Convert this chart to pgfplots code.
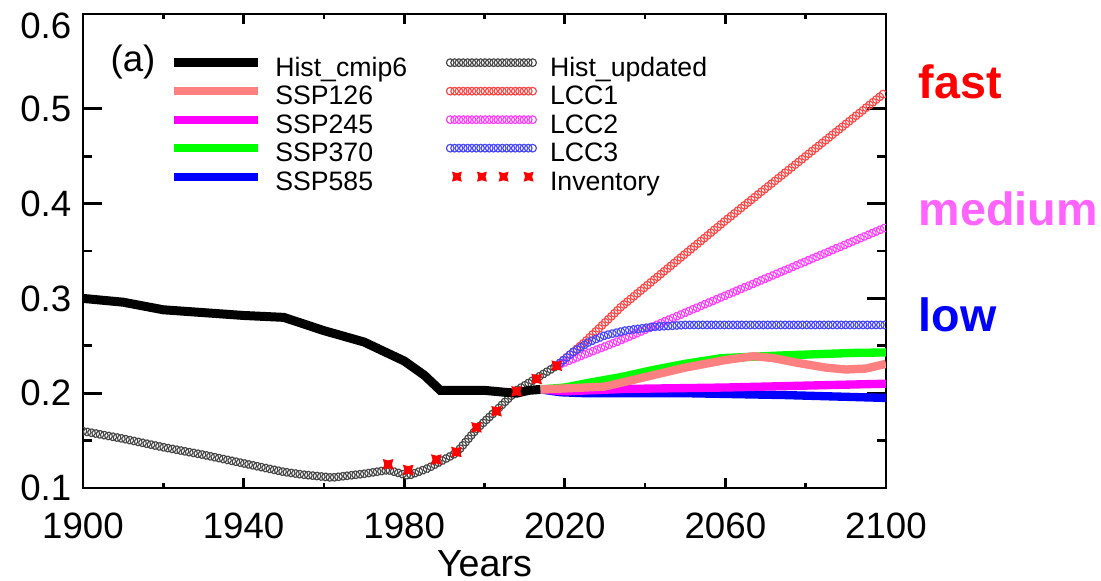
\documentclass[border=0pt]{standalone}
\usepackage{fontspec}
\setmainfont{Liberation Sans}
\usepackage{pgfplots}
\pgfplotsset{compat=1.18}
\usetikzlibrary{decorations.markings}

\definecolor{salmon}{RGB}{255,128,128}
\definecolor{sspmag}{RGB}{255,0,255}
\definecolor{sspgreen}{RGB}{0,255,0}
\definecolor{sspblue}{RGB}{0,0,255}
\definecolor{lccred}{RGB}{255,70,70}
\definecolor{lccmag}{RGB}{255,60,255}
\definecolor{lccblue}{RGB}{70,70,255}
\definecolor{histgray}{RGB}{70,70,70}
\definecolor{medpink}{RGB}{255,100,255}

% filled square with pinched sides, like the IDL inventory symbol
\pgfdeclareplotmark{pinch}{%
  \pgfpathmoveto{\pgfpoint{-\pgfplotmarksize}{-\pgfplotmarksize}}%
  \pgfpathquadraticcurveto{\pgfpoint{0pt}{-0.45\pgfplotmarksize}}{\pgfpoint{\pgfplotmarksize}{-\pgfplotmarksize}}%
  \pgfpathquadraticcurveto{\pgfpoint{0.45\pgfplotmarksize}{0pt}}{\pgfpoint{\pgfplotmarksize}{\pgfplotmarksize}}%
  \pgfpathquadraticcurveto{\pgfpoint{0pt}{0.45\pgfplotmarksize}}{\pgfpoint{-\pgfplotmarksize}{\pgfplotmarksize}}%
  \pgfpathquadraticcurveto{\pgfpoint{-0.45\pgfplotmarksize}{0pt}}{\pgfpoint{-\pgfplotmarksize}{-\pgfplotmarksize}}%
  \pgfpathclose\pgfusepathqfillstroke}

% rows of open circles along a path (IDL psym=-6 look); (0pt,0pt) so axis cs is not used
\pgfplotsset{
  circline/.style={draw opacity=0, postaction={decorate},
    decoration={markings, mark=between positions 0 and 1 step 1.3pt with
      {\draw[#1, draw opacity=1, line width=0.35pt] (0pt,0pt) circle (1.15pt);}}},
  thick line/.style={#1, line width=2.5pt},
}

% Hist_cmip6
\pgfplotstableread{
year val
1900 0.300
1910 0.296
1920 0.288
1930 0.285
1940 0.282
1950 0.280
1960 0.266
1970 0.254
1980 0.234
1985 0.219
1989 0.203
1995 0.203
2000 0.203
2005 0.201
2008 0.200
2011 0.203
2014 0.204
}\histcmip

% Hist_updated
\pgfplotstableread{
year val
1900 0.160
1910 0.152
1920 0.143
1930 0.135
1940 0.126
1950 0.117
1955 0.114
1962 0.111
1970 0.115
1976 0.119
1981 0.113
1986 0.121
1993 0.137
1998 0.162
2003 0.182
2008 0.203
2013 0.216
2018 0.229
}\histupd

\pgfplotstableread{
year val
1976 0.125
1981 0.119
1988 0.130
1993 0.138
1998 0.164
2003 0.181
2008 0.202
2013 0.215
2018 0.229
}\inventory

\pgfplotstableread{
year val
2018 0.229
2025 0.254
2034 0.291
2060 0.382
2080 0.450
2100 0.518
}\lccone

\pgfplotstableread{
year val
2018 0.229
2025 0.241
2034 0.256
2050 0.285
2075 0.330
2100 0.375
}\lcctwo

\pgfplotstableread{
year val
2018 0.229
2022 0.243
2026 0.254
2030 0.261
2035 0.266
2042 0.270
2050 0.272
2075 0.272
2100 0.272
}\lccthree

\pgfplotstableread{
year val
2014 0.204
2020 0.205
2030 0.207
2040 0.217
2050 0.227
2060 0.235
2067 0.239
2072 0.237
2078 0.232
2085 0.227
2090 0.225
2095 0.226
2100 0.231
}\sspone

\pgfplotstableread{
year val
2014 0.204
2020 0.202
2035 0.2045
2060 0.206
2080 0.208
2100 0.210
}\ssptwo

\pgfplotstableread{
year val
2014 0.204
2020 0.206
2026 0.211
2034 0.217
2042 0.2245
2050 0.231
2059 0.237
2075 0.240
2092 0.2425
2100 0.243
}\sspthree

\pgfplotstableread{
year val
2014 0.204
2019 0.201
2025 0.200
2050 0.200
2075 0.198
2100 0.195
}\sspfive

\begin{document}
\begin{tikzpicture}
\begin{axis}[
  scale only axis, width=240.9pt, height=142.2pt,
  xmin=1900, xmax=2100, ymin=0.1, ymax=0.6,
  xtick={1900,1940,...,2100}, ytick={0.1,0.2,...,0.51},
  extra y ticks={0.6},
  extra y tick style={yticklabel style={yshift=-3.6pt}},
  minor x tick num=1, minor y tick num=1,
  tick align=inside, axis line style={line width=0.8pt},
  every tick/.style={black, line width=0.8pt},
  xtick style={/pgfplots/major tick length=3pt, /pgfplots/minor tick length=1.5pt},
  ytick style={/pgfplots/major tick length=5.7pt, /pgfplots/minor tick length=2.7pt},
  /pgf/number format/assume math mode=true,
  x tick label style={/pgf/number format/1000 sep={}},
  y tick label style={/pgf/number format/fixed, /pgf/number format/precision=1},
  ticklabel style={font=\fontsize{11}{12}\selectfont},
  xticklabel style={anchor=north, inner sep=0pt, yshift=-7.2pt},
  yticklabel style={anchor=east, inner sep=0pt, xshift=-3.3pt},
  xlabel={Years},
  xlabel style={font=\fontsize{11.3}{12}\selectfont, at={(axis description cs:0.5,0)},
    anchor=north, inner sep=0pt, yshift=-18.6pt},
  legend image code/.code={\draw[#1] (0pt,4pt) -- (25pt,4pt);},
  legend columns=2,
  legend style={draw=none, fill=none, inner sep=0pt, outer sep=0pt,
    at={(0.1083,0.9114)}, anchor=north west, row sep=0pt,
    font=\fontsize{8}{9}\selectfont,
    cells={anchor=base west},
    nodes={inner sep=0pt, text height=6pt, text depth=2.55pt},
    /tikz/every odd column/.append style={column sep=3.9pt},
    /tikz/every even column/.append style={column sep=11.6pt}},
]
\coordinate (sw) at (rel axis cs:0,0);
\coordinate (ne) at (rel axis cs:1,1);

\addplot[circline=histgray, forget plot] table[x=year, y=val] {\histupd};
\addplot[circline=lccred, forget plot] table[x=year, y=val] {\lccone};
\addplot[circline=lccmag, forget plot] table[x=year, y=val] {\lcctwo};
\addplot[circline=lccblue, forget plot] table[x=year, y=val] {\lccthree};
\addplot[black, line width=2.7pt, forget plot] table[x=year, y=val] {\histcmip};
\addplot[thick line=sspblue, forget plot] table[x=year, y=val] {\sspfive};
\addplot[thick line=sspmag, forget plot] table[x=year, y=val] {\ssptwo};
\addplot[thick line=sspgreen, forget plot] table[x=year, y=val] {\sspthree};
\addplot[thick line=salmon, forget plot] table[x=year, y=val] {\sspone};
\addplot[only marks, mark=pinch, mark size=1.3pt, red, forget plot] table[x=year, y=val] {\inventory};

\addlegendimage{black, line width=2.7pt}
\addlegendentry{Hist\_cmip6}
\addlegendimage{circline=histgray}
\addlegendentry{Hist\_updated}
\addlegendimage{thick line=salmon}
\addlegendentry{SSP126}
\addlegendimage{circline=lccred}
\addlegendentry{LCC1}
\addlegendimage{thick line=sspmag}
\addlegendentry{SSP245}
\addlegendimage{circline=lccmag}
\addlegendentry{LCC2}
\addlegendimage{thick line=sspgreen}
\addlegendentry{SSP370}
\addlegendimage{circline=lccblue}
\addlegendentry{LCC3}
\addlegendimage{thick line=sspblue}
\addlegendentry{SSP585}
\addlegendimage{legend image code/.code={\draw[only marks, mark=pinch, mark size=1.2pt, red]
    plot coordinates {(2pt,4pt) (9.5pt,4pt) (16pt,4pt) (23.5pt,4pt)};}}
\addlegendentry{Inventory}

\node[anchor=west, inner sep=0pt, font=\fontsize{11}{12}\selectfont]
  at (rel axis cs:0.0336,0.899) {(a)};
\end{axis}

\node[anchor=base west, inner sep=0pt, font=\fontsize{14}{15}\selectfont\bfseries, red]
  at ([shift={(250.5pt,117pt)}]sw) {fast};
\node[anchor=base west, inner sep=0pt, font=\fontsize{14}{15}\selectfont\bfseries, medpink]
  at ([shift={(250.5pt,78.9pt)}]sw) {medium};
\node[anchor=base west, inner sep=0pt, font=\fontsize{14}{15}\selectfont\bfseries, sspblue]
  at ([shift={(250.5pt,46.8pt)}]sw) {low};

\pgfresetboundingbox
\path ([shift={(-24.9pt,-27.9pt)}]sw) rectangle ([shift={(64.5pt,4.2pt)}]ne);
\end{tikzpicture}
\end{document}
